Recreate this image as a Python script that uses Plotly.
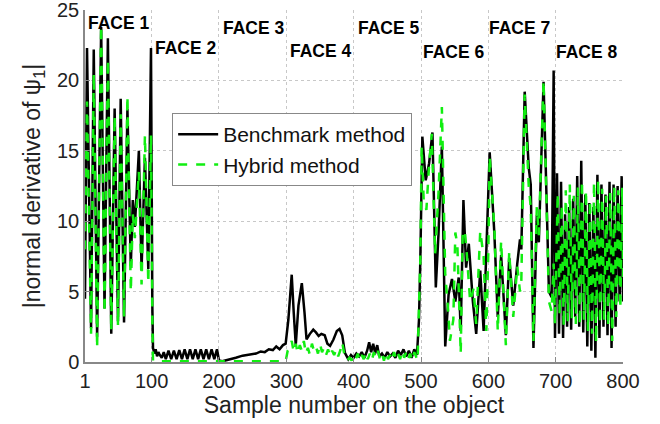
import plotly.graph_objects as go

# ---------------- data ----------------
bench_x = [1, 4, 10, 14, 19, 25, 30, 35, 40, 45, 50, 54, 59, 64, 69, 72, 75, 77, 81, 85, 90, 95, 99, 101, 102,
           104, 106, 108, 110, 112, 115, 118, 121, 125, 129, 133, 137, 141, 145, 149, 153, 157, 161, 165, 169, 173,
           177, 181, 185, 189, 193, 197, 200,
           205, 215, 225, 235, 245, 255, 262, 268, 274, 280, 285, 290, 295, 299,
           303, 308, 311, 314, 318, 323, 327, 330, 335, 340, 344, 348, 352, 357, 361, 365, 370, 375, 379, 383, 387, 392,
           396, 400, 404, 408, 412, 416, 420, 423, 426, 429, 432, 435, 438, 442, 446, 450, 454, 458, 462, 466, 470,
           474, 478, 482, 486, 490, 494, 497,
           499, 502, 507, 512, 517, 522, 526, 531, 536, 541, 546, 551, 556, 559, 563, 567, 571, 577, 582, 588, 593, 598,
           602, 609, 614, 619, 626, 631, 637, 643, 647, 649, 654, 660, 663, 667, 672, 675, 682, 690, 694, 697, 699,
           702, 705, 708, 711, 714, 717, 720, 723, 726, 729, 732, 735, 738, 741, 744, 747, 750, 753, 756, 759, 762,
           765, 768, 771, 774, 777, 780, 783, 786, 789, 792, 795, 798, 800]
bench_y = [4.5, 22.3, 2.4, 22.2, 1.8, 23.8, 3.8, 23.0, 2.0, 18.0, 2.9, 18.7, 2.8, 18.0, 6.8, 11.5, 9.6, 11.2, 15.0,
           6.6, 14.5, 6.6, 22.3, 4.0, 1.0,
           0.6, 0.9, 0.4, 0.7, 0.5, 0.3, 0.7, 0.2, 0.8, 0.2, 0.8, 0.2, 0.85, 0.2, 0.9, 0.2, 0.9, 0.2, 0.9, 0.2, 0.9,
           0.2, 0.9, 0.2, 0.9, 0.2, 0.9, 0.1,
           0.05, 0.15, 0.3, 0.45, 0.55, 0.6, 0.75, 0.7, 0.9, 0.85, 1.1, 0.9, 1.2, 1.3,
           3.0, 6.2, 3.5, 1.2, 4.0, 5.6, 3.5, 1.6, 2.0, 2.3, 2.1, 1.85, 2.0, 1.9, 1.3, 1.15, 1.6, 2.2, 2.35, 1.9, 0.65, 0.2,
           0.5, 0.3, 0.6, 0.4, 0.7, 0.3, 0.8, 1.4, 0.7, 1.3, 0.6, 1.2, 0.4, 0.6, 0.3, 0.7, 0.4, 0.6, 0.3, 0.8, 0.5,
           0.9, 0.4, 0.8, 0.3, 0.9, 0.5, 3.0,
           7.2, 16.0, 12.9, 14.1, 16.3, 5.3, 9.1, 15.3, 1.1, 4.8, 5.9, 4.3, 6.0, 2.2, 11.5, 6.7, 8.4, 4.3, 2.0, 6.5, 2.2, 8.6,
           14.9, 9.1, 3.2, 7.6, 1.9, 7.4, 4.0, 7.0, 8.7, 8.0, 19.2, 13.8, 12.6, 1.0, 10.4, 8.5, 19.9, 5.0, 4.6, 20.7, 1.7,
           13.4, 2.0, 12.8, 1.7, 10.5, 2.5, 11.0, 2.3, 11.6, 3.2, 13.2, 2.5, 14.3, 2.1, 11.9, 1.1, 11.3, 0.8, 11.0, 0.3,
           13.3, 1.7, 12.6, 2.5, 11.9, 1.9, 12.8, 1.0, 12.6, 2.5, 12.5, 4.3, 13.2, 4.3]

hybrid_x = [1, 4, 10, 14, 19, 25, 30, 35, 40, 45, 50, 54, 59, 64, 69, 72, 75, 77, 81, 85, 90, 95, 99, 101, 102,
            110, 150, 200, 250, 299,
            302, 305, 308, 311, 314, 317, 320, 323, 326, 329, 332, 335, 338, 341, 344, 347, 350, 353, 356, 359, 362,
            365, 368, 371, 374, 377, 380, 383, 387, 390,
            394, 397, 400, 403, 406, 409, 412, 415, 418, 421, 424, 427, 430, 433, 436, 439, 442, 445, 448, 451, 454,
            457, 460, 463, 466, 469, 472, 475, 478, 481, 484, 487, 490, 493, 495,
            497, 499, 501, 504, 508, 512, 516, 521, 526, 531, 536, 540, 543, 548, 551, 554, 559, 562, 565, 568, 573,
            578, 582, 588, 593, 597, 600,
            602, 609, 614, 619, 626, 631, 637, 643, 647, 649, 654, 660, 663, 667, 672, 675, 682, 690, 694, 697, 699,
            703, 706, 709, 712, 715, 718, 721, 724, 727, 730, 733, 736, 739, 742, 745, 748, 751, 754, 757, 760, 763,
            766, 769, 772, 775, 778, 781, 784, 787, 790, 793, 796, 799, 800]
hybrid_y = [8.0, 18.5, 2.0, 20.5, 1.0, 23.9, 3.5, 21.5, 2.2, 17.5, 2.6, 17.6, 3.2, 18.9, 5.0, 10.5, 8.8, 10.5, 13.5,
            5.5, 16.1, 5.6, 16.1, 3.0, 0.1,
            0.05, 0.05, 0.05, 0.05, 0.05,
            0.8, 1.0, 1.5, 0.7, 1.3, 0.6, 1.2, 0.8, 1.5, 0.6, 1.0, 0.5, 1.3, 0.8, 1.1, 0.6, 1.3, 0.7, 1.0, 0.5, 0.9,
            0.4, 0.8, 0.5, 0.9, 0.4, 0.8, 1.4, 0.3, 0.1,
            0.3, 0.1, 0.5, 0.2, 0.6, 0.1, 0.5, 0.2, 0.7, 0.2, 0.6, 0.1, 0.7, 0.3, 0.8, 0.2, 0.6, 0.1, 0.7, 0.2, 0.5,
            0.1, 0.7, 0.2, 0.6, 0.2, 0.8, 0.3, 0.7, 0.2, 0.6, 0.1, 0.7, 0.3, 0.1,
            4.0, 7.2, 15.3, 11.5, 10.8, 14.0, 16.2, 7.7, 12.0, 18.1, 6.2, 3.9, 1.5, 3.0, 9.2, 8.3, 0.6, 9.3, 9.3, 7.7,
            4.3, 5.2, 2.7, 9.3, 7.5, 2.2, 7.8,
            14.6, 9.5, 2.2, 8.6, 1.2, 7.8, 3.2, 6.8, 5.0, 5.8, 19.0, 12.5, 11.0, 1.5, 11.0, 9.0, 20.0, 4.3, 3.6, 7.0, 2.7,
            12.0, 3.3, 11.2, 2.5, 12.2, 2.9, 12.6, 3.1, 11.8, 2.7, 12.4, 2.6, 12.9, 3.0, 12.2, 2.2, 11.5, 2.0, 12.8,
            1.4, 13.0, 2.7, 12.3, 3.0, 11.8, 2.5, 12.0, 1.5, 12.5, 3.2, 12.2, 3.8, 12.4, 6.0]

face_labels = ["FACE 1", "FACE 2", "FACE 3", "FACE 4", "FACE 5", "FACE 6", "FACE 7", "FACE 8"]
face_x = [51, 151, 252, 351, 452, 549, 647, 747]
face_y = [24.1, 22.3, 23.7, 22.1, 23.7, 22.0, 23.7, 22.0]

x_ticks = [1, 100, 200, 300, 400, 500, 600, 700, 800]
y_ticks = [0, 5, 10, 15, 20, 25]

# ---------------- figure ----------------
FONT = "Liberation Sans, Arial, Helvetica, sans-serif"

fig = go.Figure()
fig.add_trace(go.Scatter(x=bench_x, y=bench_y, mode="lines", name="Benchmark method",
                         line=dict(color="black", width=2.5)))
fig.add_trace(go.Scatter(x=hybrid_x, y=hybrid_y, mode="lines", name="Hybrid method",
                         line=dict(color="#11ee11", width=2.5, dash="dash")))

for lab, fx, fy in zip(face_labels, face_x, face_y):
    fig.add_annotation(x=fx, y=fy, text="<b>%s</b>" % lab, showarrow=False,
                       font=dict(family=FONT, size=17.5, color="black"),
                       xanchor="center", yanchor="middle")

fig.update_layout(
    width=660, height=424,
    margin=dict(l=85, r=37, t=10, b=62),
    paper_bgcolor="white", plot_bgcolor="white",
    font=dict(family=FONT, size=20, color="#222"),
    showlegend=True,
    legend=dict(x=0.162, y=0.707, xanchor="left", yanchor="top",
                bgcolor="white", bordercolor="#888", borderwidth=1,
                font=dict(family=FONT, size=21, color="#111"),
                itemwidth=40, tracegroupgap=0),
)
fig.update_xaxes(range=[1, 800], tickvals=x_ticks, ticktext=[str(v) for v in x_ticks],
                 automargin=False, ticklabeloverflow="allow",
                 showgrid=True, gridcolor="#c8c8c8", griddash="dot", gridwidth=1,
                 showline=True, linecolor="#888", linewidth=1.5, mirror=False,
                 ticks="inside", ticklen=5, tickcolor="#888", zeroline=False,
                 tickfont=dict(size=20),
                 title=dict(text="Sample number on the object", font=dict(size=23), standoff=6))
fig.update_yaxes(range=[0, 25], tickvals=y_ticks,
                 automargin=False, ticklabeloverflow="allow",
                 showgrid=True, gridcolor="#c8c8c8", griddash="dot", gridwidth=1,
                 showline=True, linecolor="#888", linewidth=1.5, mirror=False,
                 ticks="inside", ticklen=5, tickcolor="#888", zeroline=False,
                 tickfont=dict(size=20),
                 title=dict(text="|normal derivative of \u03c8<sub>1</sub>|", font=dict(size=23), standoff=10))

fig.write_html("out.html")
